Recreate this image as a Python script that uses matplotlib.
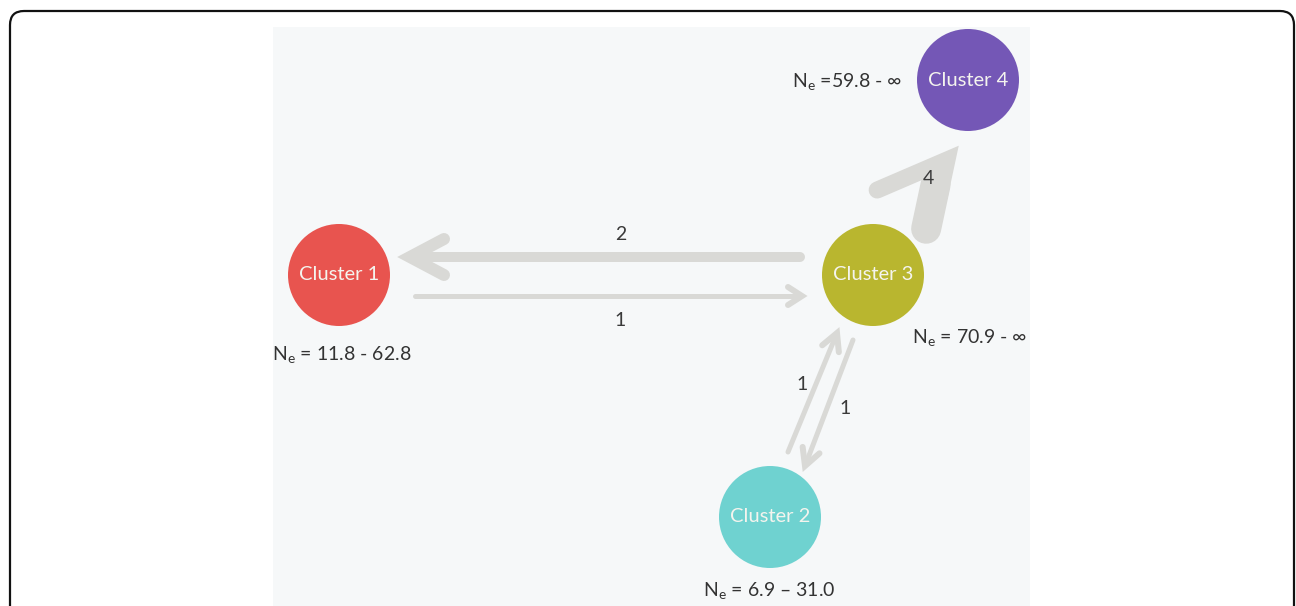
import matplotlib
matplotlib.use("Agg")
import matplotlib.pyplot as plt
from matplotlib.patches import Circle, FancyBboxPatch, Rectangle
import numpy as np

plt.rcParams['font.family'] = ['Lato', 'DejaVu Sans']
plt.rcParams['mathtext.fontset'] = 'custom'
plt.rcParams['mathtext.rm'] = 'Lato'

# data
clusters = ['Cluster 1', 'Cluster 2', 'Cluster 3', 'Cluster 4']
ne_ranges = ['= 11.8 - 62.8', '= 6.9 \u2013 31.0', '= 70.9 - \u221e', '=59.8 - \u221e']
colors = ['#e8544f', '#6fd2d0', '#b9b62f', '#7457b6']
# migration (from, to, count)
migrations = [('Cluster 3', 'Cluster 1', 2),
              ('Cluster 1', 'Cluster 3', 1),
              ('Cluster 3', 'Cluster 4', 4),
              ('Cluster 2', 'Cluster 3', 1),
              ('Cluster 3', 'Cluster 2', 1)]

# layout in pixel coords
centers = {'Cluster 1': (339, 275), 'Cluster 2': (770, 517),
           'Cluster 3': (873, 275), 'Cluster 4': (968, 80)}
radius = 51
ne_pos = {'Cluster 1': (272, 355, 'left'), 'Cluster 2': (703, 591, 'left'),
          'Cluster 3': (912, 338, 'left'), 'Cluster 4': (902, 82, 'right')}
# arrow geometry: tail, tip, shaft px, wing px, head length, head half width,
# wings, shaft side offset, label pos
arrow_geo = [((800, 257), (410, 257), 10, 12, 34, 18, (-1, 1), 0, (621, 235)),
             ((415, 296), (802, 296), 5, 6, 14, 9, (-1, 1), 0, (620, 320)),
             ((932, 230), (947, 160), 30, 17, 44, 62, (-1,), -6, (928, 179)),
             ((788, 452), (837, 333), 5, 6, 17, 9, (-1, 1), 0, (802, 384)),
             ((853, 340), (805, 466), 5, 6, 17, 9, (-1, 1), 0, (845, 409))]

fig = plt.figure(figsize=(12.96, 6.06), dpi=100)
ax = fig.add_axes([0, 0, 1, 1])
ax.set_xlim(0, 1296)
ax.set_ylim(606, 0)
ax.axis('off')

# outer frame
ax.add_patch(FancyBboxPatch((10, 11), 1284, 640, boxstyle="round,pad=0,rounding_size=14",
                            fc='white', ec='#111111', lw=1.6, zorder=0))
# scanned page
ax.add_patch(Rectangle((273, 27), 757, 600, fc='#f6f8f9', ec='none', zorder=1))

arrow_col = '#d9d9d6'
px = 0.72  # points per pixel
for (src, dst, cnt), geo in zip(migrations, arrow_geo):
    tail, tip, w, ww, hl, hh, wings, off, (lx, ly) = geo
    tail = np.array(tail, float)
    tip = np.array(tip, float)
    u = (tip - tail) / np.linalg.norm(tip - tail)
    v = np.array([-u[1], u[0]])
    # shaft
    s0 = tail + off * v
    s1 = tip - min(hl * 0.6, w) * u + off * v
    ax.plot([s0[0], s1[0]], [s0[1], s1[1]], color=arrow_col, lw=w * px,
            solid_capstyle='round', zorder=2)
    # chevron head with a sharp tip
    ends = [tip - hl * u + s * hh * v for s in wings]
    if len(ends) == 2:
        pts = [ends[0], tip, ends[1]]
    else:
        pts = [ends[0], tip, tip - hl * 0.8 * u]
    pts = np.array(pts)
    ax.plot(pts[:, 0], pts[:, 1], color=arrow_col, lw=ww * px,
            solid_capstyle='round', solid_joinstyle='miter', zorder=2)
    ax.text(lx, ly, str(cnt), fontsize=14, color='#3a3a3a', ha='center', va='center', zorder=4)

for name, ne, col in zip(clusters, ne_ranges, colors):
    cx, cy = centers[name]
    ax.add_patch(Circle((cx, cy), radius, fc=col, ec='none', zorder=3))
    ax.text(cx, cy, name, fontsize=14.5, color='#f4f4ee', ha='center', va='center', zorder=4)
    tx, ty, ha = ne_pos[name]
    ax.text(tx, ty, r'N$_\mathrm{e}$ ' + ne, fontsize=14, color='#333333',
            ha=ha, va='center', zorder=4)

fig.savefig('out.png', dpi=100)
